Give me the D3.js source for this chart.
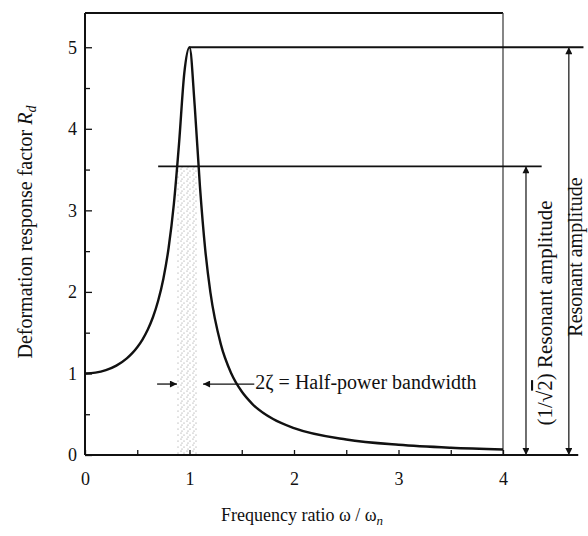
<!DOCTYPE html>
<html>
<head>
<meta charset="utf-8">
<script src="https://cdn.jsdelivr.net/npm/d3@7"></script>
<style>
  html, body { margin: 0; padding: 0; background: #fff; }
  svg { display: block; }
  text { font-family: "Liberation Serif", "DejaVu Serif", serif; fill: #111; }
</style>
</head>
<body>
<svg id="chart" width="588" height="536"></svg>
<script>
// ---- data ----
const ratio = [0, 0.1, 0.2, 0.3, 0.4, 0.45, 0.5, 0.55, 0.6, 0.65, 0.7, 0.75, 0.8, 0.85, 0.9, 0.95, 1.0,
               1.05, 1.1, 1.15, 1.2, 1.3, 1.4, 1.5, 1.6, 1.8, 2.0, 2.5, 3.0, 3.5, 4.0];
const responseRd = [1.0, 1.01, 1.041, 1.096, 1.185, 1.246, 1.322, 1.416, 1.536, 1.689, 1.891, 2.162, 2.538, 3.073, 3.821, 4.68, 5.0,
                    4.28, 3.29, 2.525, 1.995, 1.356, 1.0, 0.778, 0.628, 0.441, 0.33, 0.19, 0.125, 0.089, 0.067];
const xTickValues = [0, 0.5, 1, 1.5, 2, 2.5, 3, 3.5, 4];
const xTickLabels = ["0", "", "1", "", "2", "", "3", "", "4"];
const yTickValues = [0, 0.5, 1, 1.5, 2, 2.5, 3, 3.5, 4, 4.5, 5];
const yTickLabels = ["0", "", "1", "", "2", "", "3", "", "4", "", "5"];
const resonantAmplitude = 5.0;
const halfPowerAmplitude = 3.54;      // (1/√2) × resonant amplitude
const halfPowerBand = [0.88, 1.08];   // shaded band

const svg = d3.select("#chart");
const x = d3.scaleLinear().domain([0, 4]).range([85, 503]);
const y = d3.scaleLinear().domain([0, 5.42]).range([455, 13]);

// defs: stipple pattern + arrow markers
const defs = svg.append("defs");
const pat = defs.append("pattern").attr("id", "stipple").attr("patternUnits", "userSpaceOnUse")
  .attr("width", 6).attr("height", 6);
[[1,1],[4,3],[2,5]].forEach(([cx,cy]) =>
  pat.append("circle").attr("cx", cx).attr("cy", cy).attr("r", 0.55).attr("fill", "#888"));
function marker(id, orient) {
  defs.append("marker").attr("id", id).attr("viewBox", "0 0 10 10")
    .attr("refX", 10).attr("refY", 5).attr("markerWidth", 9).attr("markerHeight", 7)
    .attr("markerUnits", "userSpaceOnUse").attr("orient", orient)
    .append("path").attr("d", "M0,0 L10,5 L0,10 z").attr("fill", "#111");
}
marker("arrow", "auto");
marker("arrowStart", "auto-start-reverse");

// shaded half-power band
svg.append("rect")
  .attr("x", x(halfPowerBand[0])).attr("width", x(halfPowerBand[1]) - x(halfPowerBand[0]))
  .attr("y", y(halfPowerAmplitude)).attr("height", y(0) - y(halfPowerAmplitude))
  .attr("fill", "url(#stipple)");

// frame: top and right
svg.append("line").attr("x1", x(0)).attr("x2", x(4)).attr("y1", y(5.42)).attr("y2", y(5.42))
  .attr("stroke", "#111").attr("stroke-width", 1.8);
svg.append("line").attr("x1", x(4)).attr("x2", x(4)).attr("y1", y(5.42)).attr("y2", y(0))
  .attr("stroke", "#444").attr("stroke-width", 1.3);

// axes
const xAxis = d3.axisBottom(x).tickValues(xTickValues).tickSize(-5).tickPadding(17)
  .tickFormat((d, i) => xTickLabels[i]);
const gx = svg.append("g").attr("transform", `translate(0,${y(0)})`).call(xAxis);
gx.attr("font-family", null);
gx.select(".domain").remove();
gx.selectAll(".tick line").attr("stroke", "#111").attr("stroke-width", 1.3);
gx.selectAll(".tick text").style("font-size", "18px");

const yAxis = d3.axisLeft(y).tickValues(yTickValues).tickSize(-6).tickPadding(8)
  .tickFormat((d, i) => yTickLabels[i]);
const gy = svg.append("g").attr("transform", `translate(${x(0)},0)`).call(yAxis);
gy.attr("font-family", null);
gy.select(".domain").remove();
gy.selectAll(".tick line").attr("stroke", "#111").attr("stroke-width", 1.3)
  .attr("x2", (d) => Number.isInteger(d) ? 7 : 5);
gy.selectAll(".tick text").style("font-size", "18px");

// axis lines
svg.append("line").attr("x1", x(0)).attr("x2", x(0)).attr("y1", y(5.42)).attr("y2", y(0))
  .attr("stroke", "#111").attr("stroke-width", 2);
svg.append("line").attr("x1", x(0)).attr("x2", x(4.72)).attr("y1", y(0)).attr("y2", y(0))
  .attr("stroke", "#111").attr("stroke-width", 2.2);

// reference lines
svg.append("line").attr("x1", x(1)).attr("x2", x(4.77)).attr("y1", y(resonantAmplitude)).attr("y2", y(resonantAmplitude))
  .attr("stroke", "#111").attr("stroke-width", 1.8);
svg.append("line").attr("x1", x(0.7)).attr("x2", x(4.37)).attr("y1", y(halfPowerAmplitude)).attr("y2", y(halfPowerAmplitude))
  .attr("stroke", "#111").attr("stroke-width", 1.8);

// dimension arrows
svg.append("line").attr("x1", x(4.63)).attr("x2", x(4.63)).attr("y1", y(0)).attr("y2", y(resonantAmplitude))
  .attr("stroke", "#222").attr("stroke-width", 1.3)
  .attr("marker-start", "url(#arrowStart)").attr("marker-end", "url(#arrow)");
svg.append("line").attr("x1", x(4.22)).attr("x2", x(4.22)).attr("y1", y(0)).attr("y2", y(halfPowerAmplitude))
  .attr("stroke", "#222").attr("stroke-width", 1.3)
  .attr("marker-start", "url(#arrowStart)").attr("marker-end", "url(#arrow)");

// bandwidth arrows
svg.append("line").attr("x1", x(0.69)).attr("x2", x(halfPowerBand[0])).attr("y1", y(0.87)).attr("y2", y(0.87))
  .attr("stroke", "#111").attr("stroke-width", 1.3).attr("marker-end", "url(#arrow)");
svg.append("line").attr("x1", x(1.62)).attr("x2", x(1.13)).attr("y1", y(0.87)).attr("y2", y(0.87))
  .attr("stroke", "#111").attr("stroke-width", 1.3).attr("marker-end", "url(#arrow)");

// response curve
const pts = ratio.map((r, i) => [r, responseRd[i]]);
svg.append("path").datum(pts)
  .attr("d", d3.line().x(d => x(d[0])).y(d => y(d[1])).curve(d3.curveMonotoneX))
  .attr("fill", "none").attr("stroke", "#111").attr("stroke-width", 2.4);

// texts
svg.append("text").attr("x", x(1.63)).attr("y", y(0.87) + 5).style("font-size", "20px")
  .text("2ζ = Half-power bandwidth");

const xt = svg.append("text").attr("x", 302).attr("y", 521).attr("text-anchor", "middle").style("font-size", "18px");
xt.append("tspan").text("Frequency ratio ω / ω");
xt.append("tspan").attr("dy", 4).style("font-size", "13px").style("font-style", "italic").text("n");

const yt = svg.append("text").attr("transform", "translate(32,232) rotate(-90)")
  .attr("text-anchor", "middle").style("font-size", "20px");
yt.append("tspan").text("Deformation response factor ");
yt.append("tspan").style("font-style", "italic").text("R");
yt.append("tspan").attr("dy", 4).style("font-size", "14px").style("font-style", "italic").text("d");

const r1 = svg.append("text").attr("transform", "translate(552,313) rotate(-90)")
  .attr("text-anchor", "middle").style("font-size", "21px");
r1.append("tspan").text("(1/√");
r1.append("tspan").style("text-decoration", "overline").text("2");
r1.append("tspan").text(") Resonant amplitude");

svg.append("text").attr("transform", "translate(582,257) rotate(-90)")
  .attr("text-anchor", "middle").style("font-size", "20px").text("Resonant amplitude");
</script>
</body>
</html>
